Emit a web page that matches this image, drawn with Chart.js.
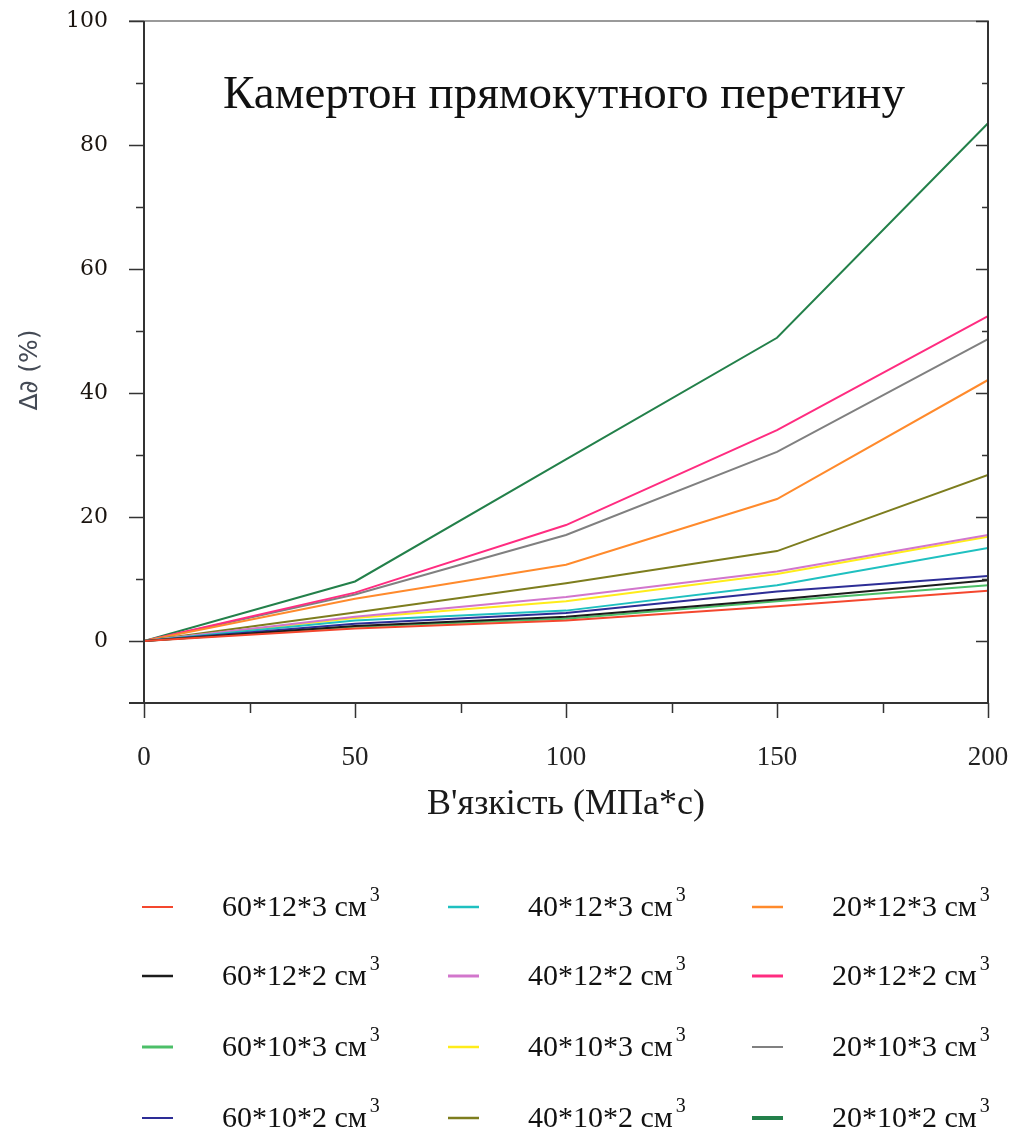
<!DOCTYPE html>
<html>
<head>
<meta charset="utf-8">
<script src="https://cdn.jsdelivr.net/npm/chart.js@4/dist/chart.umd.min.js"></script>
<style>
  html, body { margin: 0; padding: 0; background: #ffffff; }
  canvas { display: block; }
</style>
</head>
<body>
<canvas id="chart" width="1014" height="1137"></canvas>
<script>
// Viscosity values on the horizontal axis (MPa*s)
const viscosity = [0, 50, 100, 150, 200];

// Labelled tick values
const xTickValues = [0, 50, 100, 150, 200];
const yTickValues = [0, 20, 40, 60, 80, 100];

// Series names (tuning-fork dimensions)
const seriesLabels = [
  '60*12*3 см³', '60*12*2 см³', '60*10*3 см³', '60*10*2 см³',
  '40*12*3 см³', '40*12*2 см³', '40*10*3 см³', '40*10*2 см³',
  '20*12*3 см³', '20*12*2 см³', '20*10*3 см³', '20*10*2 см³'
];

// Relative change Δ∂ (%) for each fork, one value per viscosity
const f60x12x3 = [0, 2.0, 3.3, 5.6, 8.1];
const f60x12x2 = [0, 2.4, 3.9, 6.7, 9.8];
const f60x10x3 = [0, 2.3, 3.6, 6.4, 9.0];
const f60x10x2 = [0, 2.8, 4.5, 8.0, 10.5];
const f40x12x3 = [0, 3.3, 4.9, 9.0, 15.0];
const f40x12x2 = [0, 3.9, 7.1, 11.2, 17.1];
const f40x10x3 = [0, 3.7, 6.4, 10.8, 16.8];
const f40x10x2 = [0, 4.6, 9.3, 14.5, 26.8];
const f20x12x3 = [0, 6.8, 12.3, 22.9, 42.1];
const f20x12x2 = [0, 7.8, 18.7, 34.0, 52.4];
const f20x10x3 = [0, 7.5, 17.1, 30.5, 48.7];
const f20x10x2 = [0, 9.6, 29.3, 48.9, 83.5];

const seriesValues = [
  f60x12x3, f60x12x2, f60x10x3, f60x10x2,
  f40x12x3, f40x12x2, f40x10x3, f40x10x2,
  f20x12x3, f20x12x2, f20x10x3, f20x10x2
];

const seriesColors = [
  '#f4472e', '#1c1c1c', '#4cbf68', '#2d2d96',
  '#1fc0c0', '#d276cc', '#ffec1a', '#7d7d1e',
  '#ff8a2c', '#ff2c80', '#808080', '#23804a'
];
const legendLineWidths = [2, 2.5, 3, 2, 2.5, 3, 2.5, 2.5, 2.5, 3, 2, 4];

const serif = "'Liberation Serif', 'Times New Roman', serif";

// Frame, ticks, tick labels, axis titles, in-plot title and the legend
const decorations = {
  id: 'decorations',
  afterDraw(chart) {
    const ctx = chart.ctx;
    const { left, right, top, bottom } = chart.chartArea;
    const xs = chart.scales.x, ys = chart.scales.y;
    ctx.save();

    // top border
    ctx.strokeStyle = '#9a9a9a';
    ctx.lineWidth = 2;
    ctx.beginPath();
    ctx.moveTo(left - 15, top); ctx.lineTo(right + 1, top);
    ctx.stroke();

    ctx.strokeStyle = '#333333';
    ctx.beginPath();
    ctx.moveTo(left, top); ctx.lineTo(left, bottom);
    ctx.moveTo(left - 15, bottom); ctx.lineTo(right + 1, bottom);
    ctx.moveTo(right, top); ctx.lineTo(right, bottom);
    ctx.stroke();

    // y ticks: outward on the left, inward on the right
    ctx.lineWidth = 1.5;
    ctx.beginPath();
    for (let v = 0; v <= 100; v += 10) {
      const y = Math.round(ys.getPixelForValue(v)) + 0.5;
      const major = v % 20 === 0;
      ctx.moveTo(left - (major ? 15 : 8), y); ctx.lineTo(left, y);
      ctx.moveTo(right, y); ctx.lineTo(right - (major ? 12 : 6), y);
    }
    // x ticks below the axis
    for (let v = 0; v <= 200; v += 25) {
      const x = Math.round(xs.getPixelForValue(v)) + 0.5;
      const major = v % 50 === 0;
      ctx.moveTo(x, bottom); ctx.lineTo(x, bottom + (major ? 15 : 10));
    }
    ctx.stroke();

    // tick labels
    ctx.textBaseline = 'middle';
    ctx.fillStyle = '#1a140f';
    ctx.font = "22px 'DejaVu Serif', serif";
    ctx.textAlign = 'right';
    yTickValues.forEach(v => ctx.fillText(String(v), left - 36, ys.getPixelForValue(v)));
    ctx.fillStyle = '#222222';
    ctx.font = '27px ' + serif;
    ctx.textAlign = 'center';
    xTickValues.forEach(v => ctx.fillText(String(v), xs.getPixelForValue(v), bottom + 55));

    // axis titles
    ctx.fillStyle = '#1a1a1a';
    ctx.font = '36px ' + serif;
    ctx.fillText("В'язкість (МПа*с)", (left + right) / 2, 805);
    ctx.save();
    ctx.translate(30, 370);
    ctx.rotate(-Math.PI / 2);
    ctx.fillStyle = '#444a55';
    ctx.font = "25px 'DejaVu Sans', sans-serif";
    ctx.fillText('Δ∂ (%)', 0, 0);
    ctx.restore();

    // title inside the plot
    ctx.fillStyle = '#111111';
    ctx.font = '47px ' + serif;
    ctx.textAlign = 'center';
    ctx.fillText('Камертон прямокутного перетину', 564, 96);

    // legend: four rows per column
    const colX = [142, 448, 752];
    const rowY = [907, 976, 1047, 1118];
    chart.data.datasets.forEach((ds, i) => {
      const cx = colX[Math.floor(i / 4)];
      const cy = rowY[i % 4];
      ctx.strokeStyle = ds.borderColor;
      ctx.lineWidth = legendLineWidths[i];
      ctx.beginPath();
      ctx.moveTo(cx, cy); ctx.lineTo(cx + 31, cy);
      ctx.stroke();

      const base = ds.label.slice(0, -1);
      ctx.fillStyle = '#111111';
      ctx.textAlign = 'left';
      ctx.textBaseline = 'middle';
      ctx.font = '30px ' + serif;
      const tx = cx + 80;
      ctx.fillText(base, tx, cy + 1);
      const w = ctx.measureText(base).width;
      ctx.font = '20px ' + serif;
      ctx.fillText('3', tx + w + 3, cy - 11);
    });
    ctx.restore();
  }
};

new Chart(document.getElementById('chart'), {
  type: 'line',
  data: {
    datasets: seriesLabels.map((label, i) => ({
      label,
      data: viscosity.map((v, k) => ({ x: v, y: seriesValues[i][k] })),
      borderColor: seriesColors[i],
      backgroundColor: seriesColors[i],
      borderWidth: 2,
      pointRadius: 0,
      tension: 0,
      fill: false
    }))
  },
  options: {
    responsive: false,
    animation: false,
    layout: { padding: { top: 21, right: 26, bottom: 434, left: 144 } },
    plugins: {
      legend: { display: false },
      tooltip: { enabled: false },
      title: { display: false }
    },
    scales: {
      x: { type: 'linear', min: 0, max: 200, display: false },
      y: { min: -10, max: 100, display: false }
    }
  },
  plugins: [decorations]
});
</script>
</body>
</html>
